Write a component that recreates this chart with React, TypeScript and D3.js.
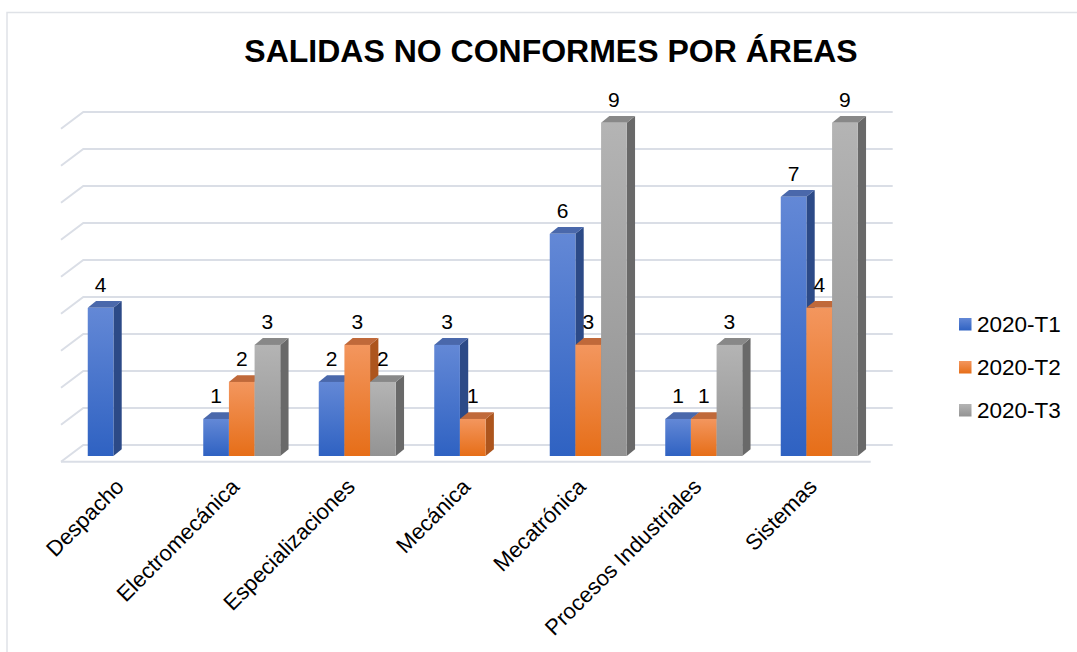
import React from "react";
import * as d3 from "d3";

const categories = [
  "Despacho",
  "Electromecánica",
  "Especializaciones",
  "Mecánica",
  "Mecatrónica",
  "Procesos Industriales",
  "Sistemas",
];
const seriesNames = ["2020-T1", "2020-T2", "2020-T3"];
const t1 = [4, 1, 2, 3, 6, 1, 7];
const t2 = [0, 2, 3, 1, 3, 1, 4];
const t3 = [0, 3, 2, 0, 9, 3, 9];
const gridTicks = [0, 1, 2, 3, 4, 5, 6, 7, 8, 9];
const title = "SALIDAS NO CONFORMES POR ÁREAS";

const seriesValues = [t1, t2, t3];

const palette = [
  { top: "#4a68ab", side: "#2c4a87", g0: "#6388d6", g1: "#2f62c2" },
  { top: "#c0693a", side: "#ad551d", g0: "#f3965e", g1: "#e66e18" },
  { top: "#888888", side: "#696969", g0: "#b4b4b4", g1: "#939393" },
];

const W = 1077;
const H = 652;
const FONT = "Arial, 'Liberation Sans', Helvetica, sans-serif";

export default function App() {
  const x = d3.scaleBand<string>().domain(categories).range([68.5, 877]).padding(0);
  const inner = d3.scaleBand<string>().domain(seriesNames).range([0, 77]).padding(0);
  const groupOffset = (x.bandwidth() - 77) / 2;
  const yFront = d3.scaleLinear().domain([0, 9]).range([456, 122.7]);
  const yWall = d3.scaleLinear().domain([0, 9]).range([445, 112]);
  const dx = 8.3;
  const dy = 6.8;
  const wallLeft = 83.3;
  const wallRight = 892.7;
  const diagDx = 22.3;
  const diagDy = 16.7;

  const bars: React.ReactNode[] = [];
  const labels: React.ReactNode[] = [];
  categories.forEach((cat, ci) => {
    seriesNames.forEach((s, si) => {
      const v = seriesValues[si][ci];
      if (!v) return;
      const x0 = (x(cat) as number) + groupOffset + (inner(s) as number);
      const w = inner.bandwidth();
      const x1 = x0 + w;
      const yt = yFront(v);
      const yb = yFront(0);
      const p = palette[si];
      bars.push(
        <g key={`${ci}-${si}`}>
          <polygon
            points={`${x1},${yt} ${x1 + dx},${yt - dy} ${x1 + dx},${yb - dy} ${x1},${yb}`}
            fill={p.side}
          />
          <polygon
            points={`${x0},${yt} ${x0 + dx},${yt - dy} ${x1 + dx},${yt - dy} ${x1},${yt}`}
            fill={p.top}
          />
          <rect x={x0} y={yt} width={w} height={yb - yt} fill={`url(#grad${si})`} />
        </g>
      );
      labels.push(
        <text
          key={`l${ci}-${si}`}
          x={x0 + w / 2}
          y={yt - 16}
          textAnchor="middle"
          fontSize={21}
          fontFamily={FONT}
          fill="#000"
        >
          {v}
        </text>
      );
    });
  });

  return (
    <svg
      width={W}
      height={H}
      style={{ position: "absolute", left: 0, top: 0, background: "#fff" }}
    >
      <defs>
        {palette.map((p, i) => (
          <linearGradient key={i} id={`grad${i}`} x1="0" y1="0" x2="0" y2="1">
            <stop offset="0%" stopColor={p.g0} />
            <stop offset="100%" stopColor={p.g1} />
          </linearGradient>
        ))}
      </defs>
      <rect x={7} y={12.5} width={W} height={H} fill="#fff" stroke="#dfe2e7" strokeWidth={1.5} />
      <text
        x={551}
        y={62}
        textAnchor="middle"
        fontSize={32}
        fontWeight="bold"
        fontFamily={FONT}
        fill="#000"
      >
        {title}
      </text>
      <g stroke="#dadee6" strokeWidth={2} fill="none">
        {gridTicks.map((t) => (
          <polyline
            key={t}
            points={`${wallLeft - diagDx},${yWall(t) + diagDy} ${wallLeft},${yWall(t)} ${wallRight},${yWall(t)}`}
          />
        ))}
        <line x1={wallLeft - diagDx} y1={yWall(0) + diagDy} x2={870.7} y2={yWall(0) + diagDy} />
      </g>
      {bars}
      {labels}
      {categories.map((cat) => {
        const cx = (x(cat) as number) + x.bandwidth() / 2;
        return (
          <text
            key={cat}
            transform={`translate(${cx - 1},${488}) rotate(-45)`}
            textAnchor="end"
            fontSize={22}
            fontFamily={FONT}
            fill="#000"
          >
            {cat}
          </text>
        );
      })}
      {seriesNames.map((s, i) => {
        const cy = 324 + i * 43;
        return (
          <g key={s}>
            <rect x={959} y={cy - 6} width={12.5} height={12.5} fill={`url(#grad${i})`} />
            <text x={977} y={cy + 8} fontSize={22.5} fontFamily={FONT} fill="#000">
              {s}
            </text>
          </g>
        );
      })}
    </svg>
  );
}
